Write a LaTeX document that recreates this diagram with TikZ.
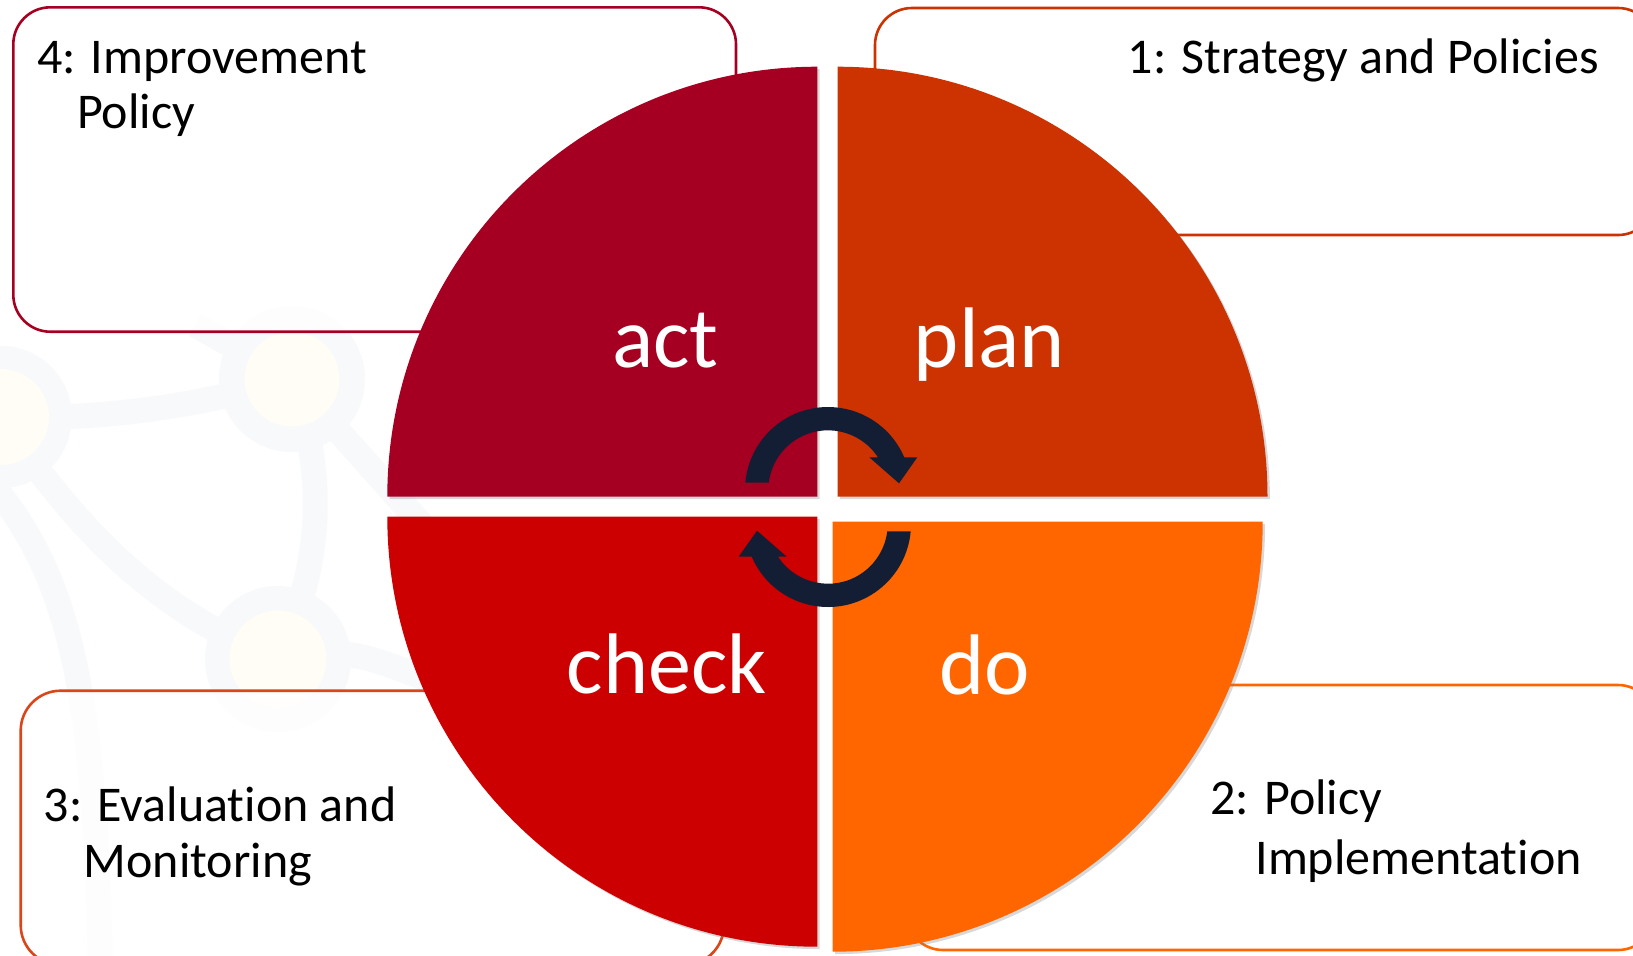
\documentclass[tikz,border=0pt]{standalone}
\usepackage{fontspec}
\setmainfont{Carlito}[Ligatures={NoCommon},RawFeature={-liga;-clig;-calt}]
\usetikzlibrary{shadows}
\definecolor{actc}{HTML}{A50021}
\definecolor{planc}{HTML}{CC3300}
\definecolor{checkc}{HTML}{CC0000}
\definecolor{doc}{HTML}{FF6600}
\definecolor{boxthree}{HTML}{D9461A}
\definecolor{arrowc}{HTML}{131E34}
\definecolor{wmgray}{HTML}{F8F9FB}
\definecolor{wmyel}{HTML}{FFFDF5}
\tikzset{
  quad/.style={drop shadow={shadow xshift=1.2pt,shadow yshift=-1.2pt,opacity=0.3}},
  infobox/.style={line width=1.3pt, rounded corners=18.5pt, fill=white, fill opacity=0.8},
  boxtext/.style={font=\fontsize{25}{30}\selectfont, text=black, inner sep=0pt},
  bigtext/.style={font=\fontsize{43}{50}\selectfont, text=white, inner sep=0pt, anchor=base},
  wmedge/.style={draw=wmgray, line width=12.5pt},
  cycarrow/.pic={
    \fill[arrowc] (174.95:83) arc[start angle=174.95,end angle=23.2,radius=83]
      -- (89.3,32.7) -- (71,6.7) -- (41.3,32.7) -- (33.2:59.7)
      arc[start angle=33.2,end angle=173,radius=59.7] -- cycle;
  }
}
\begin{document}
\begin{tikzpicture}[x=0.5pt,y=0.5pt]
\useasboundingbox (0,0) rectangle (1633,-955);
\clip (0,0) rectangle (1633,-955);
\fill[white] (0,0) rectangle (1633,-955);

% faint background network
\draw[wmedge] (1,-417) .. controls (110,-420) and (200,-405) .. (292,-379);
\draw[wmedge] (292,-379) .. controls (325,-470) and (325,-560) .. (278,-659);
\draw[wmedge] (1,-417) .. controls (70,-520) and (150,-610) .. (278,-659);
\draw[wmedge] (-20,-470) .. controls (60,-560) and (95,-660) .. (100,-960);
\draw[wmedge] (292,-379) -- (440,-545);
\draw[wmedge] (278,-659) .. controls (350,-650) .. (430,-680);
\draw[wmedge] (292,-379) .. controls (240,-350) .. (195,-325);
\fill[wmgray] (292,-379) circle (73);
\fill[wmyel] (292,-379) circle (47.5);
\fill[wmgray] (1,-417) circle (71);
\fill[wmyel] (1,-417) circle (48);
\fill[wmgray] (278,-659) circle (73);
\fill[wmyel] (278,-659) circle (48.5);

% text boxes
\draw[infobox, draw=actc] (13.3,-7.3) rectangle (736,-331.7);
\draw[infobox, draw=planc] (875,-8) rectangle (1655,-235);
\draw[infobox, draw=boxthree, rounded corners=20pt] (20.7,-690.7) rectangle (724,-965);
\draw[infobox, draw=doc] (906,-685) rectangle (1655,-950);

\node[boxtext, anchor=base west] (t4a) at (36.7,-73.3) {4: Improvement};
\node[boxtext, anchor=base west] (t4b) at (76.7,-128.3) {Policy};
\node[boxtext, anchor=base east] (t1) at (1599,-73.5) {1: Strategy and Policies};
\node[boxtext, anchor=base west] (t3a) at (43.3,-821.7) {3: Evaluation and};
\node[boxtext, anchor=base west] (t3b) at (83.3,-877.3) {Monitoring};
\node[boxtext, anchor=base west] (t2a) at (1210,-814) {2: Policy};
\node[boxtext, anchor=base west] (t2b) at (1255,-874) {Implementation};

% quadrants
\fill[actc, quad] (817.3,-496.7) -- (387.3,-496.7) arc[start angle=180,end angle=90,radius=430] -- cycle;
\fill[planc, quad] (837.5,-496.7) -- (837.5,-66.7) arc[start angle=90,end angle=0,radius=430] -- cycle;
\fill[checkc, quad] (817.3,-516.7) -- (387.3,-516.7) arc[start angle=180,end angle=270,radius=430] -- cycle;
\fill[doc, quad] (832.7,-521.7) -- (1262.7,-521.7) arc[start angle=0,end angle=-90,radius=430] -- cycle;

\node[bigtext] (act) at (665.5,-367.6) {act};
\node[bigtext] (plan) at (989.5,-367.6) {plan};
\node[bigtext] (check) at (666.6,-693) {check};
\node[bigtext] (do) at (984.8,-694) {do};

% cycle arrows
\pic (arrowtop) at (828,-490) {cycarrow};
\pic[rotate=180] (arrowbot) at (828,-524) {cycarrow};
\end{tikzpicture}
\end{document}
